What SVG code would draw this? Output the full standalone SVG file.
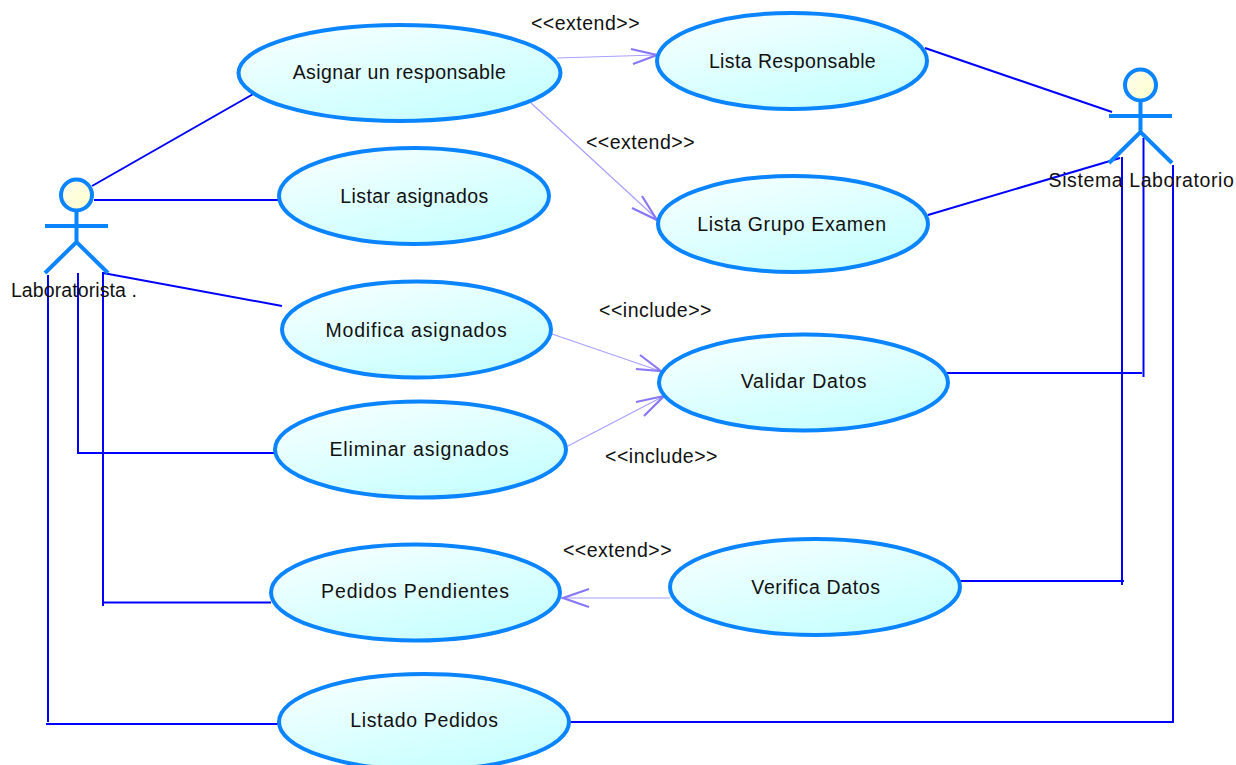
<svg xmlns="http://www.w3.org/2000/svg" width="1236" height="765" viewBox="0 0 1236 765">
<style>
text{font-family:"Liberation Sans",Arial,sans-serif;font-size:19.500px;fill:#111;text-anchor:middle;letter-spacing:.4px}
.lbl{letter-spacing:.5px}
.wide{letter-spacing:.85px}
.mid{letter-spacing:.65px}
.uc{fill:url(#ug);stroke:#0a84ff;stroke-width:4}
.head{fill:url(#ag);stroke:#0a84ff;stroke-width:4}
.limb{fill:none;stroke:#0a84ff;stroke-width:4}
.assoc{fill:none;stroke:#0000ff;stroke-width:2}
.dep{fill:none;stroke:#a8a0ff;stroke-width:1.2}
.tip{fill:none;stroke:#8878f8;stroke-width:2.200}
</style>
<defs>
<linearGradient id="ug" x1="0.100" y1="0" x2="0.800" y2="1"><stop offset="0" stop-color="#f8ffff"/><stop offset="1" stop-color="#c4ffff"/></linearGradient>
<linearGradient id="ag" x1="0" y1="0" x2="1" y2="1"><stop offset="0" stop-color="#fbfbf0"/><stop offset="1" stop-color="#ffffc8"/></linearGradient>
</defs>
<g id="connectors">
<path class="assoc" d="M92 186L255 93"/>
<path class="assoc" d="M94 200H279"/>
<path class="assoc" d="M103 273L282 306"/>
<path class="assoc" d="M78 273V453H275"/>
<path class="assoc" d="M103 272V606M103 602.500H271"/>
<path class="assoc" d="M48 275V722M46 724H279"/>
<path class="assoc" d="M925 48L1112 112"/>
<path class="assoc" d="M928 215L1120 158"/>
<path class="assoc" d="M946 373H1142M1143.500 138V377"/>
<path class="assoc" d="M959 581H1124M1122 157V585"/>
<path class="assoc" d="M569 722H1173M1173 165V723"/>
<path class="dep" d="M557 58L656 55"/><path class="tip" d="M631 49L657 55L633 64"/>
<path class="dep" d="M531 103L657 219"/><path class="tip" d="M642 196L657 220L632 208"/>
<path class="dep" d="M552 334L660 371"/><path class="tip" d="M640 355L661 371L636 369"/>
<path class="dep" d="M566 447L664 396"/><path class="tip" d="M636 402L664 396L644 416"/>
<path class="dep" d="M670 598H563"/><path class="tip" d="M589 589L563 598L589 607"/>
</g>
<g id="actor-laboratorista">
<circle class="head" cx="76.500" cy="195" r="15.500"/>
<path class="limb" d="M76.500 211V242M45 226H108M45 273L76.500 242L108 273"/>
<text x="74" y="297" style="letter-spacing:.1px">Laboratorista .</text>
</g>
<g id="actor-sistema">
<circle class="head" cx="1140.500" cy="85" r="15.500"/>
<path class="limb" d="M1140.500 101V132M1109 116H1172M1109 163L1140.500 132L1172 163"/>
<text x="1141.500" y="187" style="letter-spacing:.6px">Sistema Laboratorio</text>
</g>
<g id="uc-asignar"><ellipse class="uc" cx="399.500" cy="73" rx="161" ry="48"/><text x="399.500" y="79">Asignar un responsable</text></g>
<g id="uc-lista-responsable"><ellipse class="uc" cx="792" cy="61" rx="135" ry="48"/><text x="792.500" y="68">Lista Responsable</text></g>
<g id="uc-listar"><ellipse class="uc" cx="414" cy="196" rx="135" ry="48"/><text x="414.500" y="203">Listar asignados</text></g>
<g id="uc-lista-grupo"><ellipse class="uc" cx="793" cy="224" rx="135" ry="48"/><text class="mid" x="792" y="231">Lista Grupo Examen</text></g>
<g id="uc-modifica"><ellipse class="uc" cx="416.500" cy="329.500" rx="134.500" ry="48"/><text class="wide" x="416.500" y="337">Modifica asignados</text></g>
<g id="uc-validar"><ellipse class="uc" cx="803.500" cy="382.500" rx="144.500" ry="48"/><text class="wide" x="804" y="388">Validar Datos</text></g>
<g id="uc-eliminar"><ellipse class="uc" cx="420.500" cy="449.500" rx="145.500" ry="48"/><text class="wide" x="419.500" y="456">Eliminar asignados</text></g>
<g id="uc-pedidos"><ellipse class="uc" cx="415.500" cy="592.500" rx="144.500" ry="48"/><text class="wide" x="415.500" y="598">Pedidos Pendientes</text></g>
<g id="uc-verifica"><ellipse class="uc" cx="815" cy="587" rx="145" ry="48"/><text class="mid" x="816" y="594">Verifica Datos</text></g>
<g id="uc-listado"><ellipse class="uc" cx="424" cy="722" rx="145" ry="48"/><text class="mid" x="424.500" y="727">Listado Pedidos</text></g>
<g id="labels">
<text class="lbl" x="585.500" y="30">&lt;&lt;extend&gt;&gt;</text>
<text class="lbl" x="640.500" y="149">&lt;&lt;extend&gt;&gt;</text>
<text class="lbl" x="655.500" y="317">&lt;&lt;include&gt;&gt;</text>
<text class="lbl" x="661.500" y="463">&lt;&lt;include&gt;&gt;</text>
<text class="lbl" x="617.500" y="557">&lt;&lt;extend&gt;&gt;</text>
</g>
</svg>
